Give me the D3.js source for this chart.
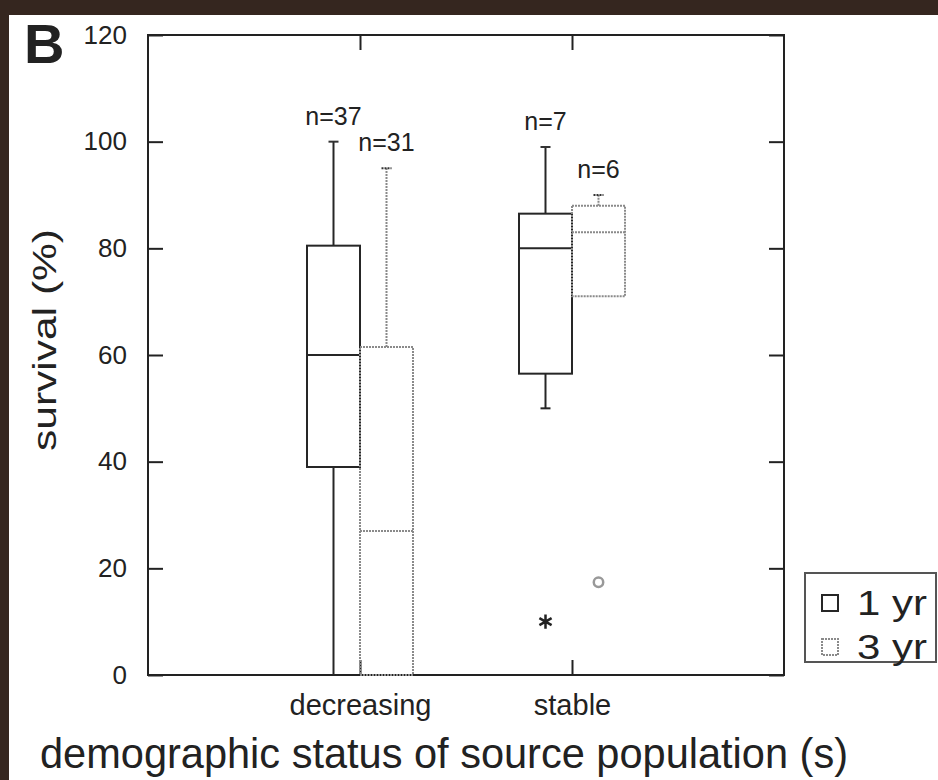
<!DOCTYPE html>
<meta charset="utf-8">
<script src="https://d3js.org/d3.v7.min.js"></script>
<style>
  body { margin: 0; background: #35261f; }
  text { font-family: "Liberation Sans", Arial, sans-serif; fill: #222; }
</style>
<div id="my_dataviz"></div>
<script>
  // data
  var categories = ["decreasing", "stable"];
  var series = ["1 yr", "3 yr"];
  var tickValues = [0, 20, 40, 60, 80, 100, 120];

  var lo1 = [0, 50],   q1_1 = [39, 56.5], med1 = [60, 80], q3_1 = [80.5, 86.5], hi1 = [100, 99], n1 = [37, 7];
  var lo3 = [0, 71],   q1_3 = [0, 71],    med3 = [27, 83], q3_3 = [61.5, 88],  hi3 = [95, 90],  n3 = [31, 6];
  var outCat = ["stable", "stable"], outSeries = ["1 yr", "3 yr"], outVal = [10, 17.4];

  var W = 938, H = 780;
  var margin = {top: 35, right: 154, bottom: 105, left: 148},
      width = W - margin.left - margin.right,
      height = H - margin.top - margin.bottom;

  var root = d3.select("#my_dataviz")
    .append("svg")
      .attr("width", W)
      .attr("height", H)
      .style("display", "block");

  // white paper on the dark backdrop
  root.append("rect")
    .attr("x", 9).attr("y", 15)
    .attr("width", W - 9).attr("height", H - 15)
    .attr("fill", "#fff");

  var svg = root.append("g")
    .attr("transform", "translate(" + margin.left + "," + margin.top + ")");

  var x = d3.scalePoint().domain(categories).range([0, width]).padding(1);
  var y = d3.scaleLinear().domain([0, 120]).range([height, 0]);
  var xs = d3.scaleBand().domain(series).range([-53, 53]);

  // axes, ticks pointing in
  var gl = svg.append("g")
    .call(d3.axisLeft(y).tickValues(tickValues).tickSize(-15).tickSizeOuter(0).tickPadding(21));
  gl.selectAll("text").style("font-size", "26px");
  svg.append("g").attr("transform", "translate(" + width + ",0)")
    .call(d3.axisRight(y).tickValues(tickValues).tickSize(-15).tickSizeOuter(0).tickFormat(""));
  svg.append("g")
    .call(d3.axisTop(x).tickSize(-15).tickSizeOuter(0).tickFormat(""));
  var gb = svg.append("g").attr("transform", "translate(0," + height + ")")
    .call(d3.axisBottom(x).tickSize(-15).tickSizeOuter(0).tickPadding(19));
  gb.selectAll("text").style("font-size", "29px");
  svg.selectAll(".domain").remove();
  svg.selectAll(".tick line").attr("stroke", "#222").attr("stroke-width", 2);
  svg.selectAll(".tick text").attr("fill", "#222");

  // frame
  svg.append("rect")
    .attr("width", width).attr("height", height)
    .attr("fill", "none").attr("stroke", "#222").attr("stroke-width", 2);

  var styles = {
    "1 yr": {stroke: "#262626", dash: null},
    "3 yr": {stroke: "#8a8a8a", dash: "2,1"}
  };

  function rows(s, lo, q1, med, q3, hi, n) {
    return categories.map(function (c, i) {
      return {cat: c, s: s, lo: lo[i], q1: q1[i], med: med[i], q3: q3[i], hi: hi[i], n: n[i]};
    });
  }
  var boxes = rows("1 yr", lo1, q1_1, med1, q3_1, hi1, n1).concat(rows("3 yr", lo3, q1_3, med3, q3_3, hi3, n3));

  var g = svg.selectAll(".bx").data(boxes).enter().append("g")
    .attr("class", "bx")
    .attr("transform", function (d) { return "translate(" + (x(d.cat) + xs(d.s)) + ",0)"; })
    .attr("stroke", function (d) { return styles[d.s].stroke; })
    .attr("stroke-dasharray", function (d) { return styles[d.s].dash; })
    .attr("stroke-width", 2)
    .attr("fill", "none");

  var bw = xs.bandwidth(), cx = bw / 2;
  // whiskers
  g.append("line").attr("x1", cx).attr("x2", cx)
    .attr("y1", function (d) { return y(d.q3); }).attr("y2", function (d) { return y(d.hi); });
  g.append("line").attr("x1", cx).attr("x2", cx)
    .attr("y1", function (d) { return y(d.q1); }).attr("y2", function (d) { return y(d.lo); });
  // caps
  g.append("line").attr("x1", cx - 5).attr("x2", cx + 5)
    .attr("y1", function (d) { return y(d.hi); }).attr("y2", function (d) { return y(d.hi); })
    .attr("stroke", "#333").attr("stroke-dasharray", null);
  g.filter(function (d) { return d.lo < d.q1 && d.lo > 0; }).append("line")
    .attr("x1", cx - 5).attr("x2", cx + 5)
    .attr("y1", function (d) { return y(d.lo); }).attr("y2", function (d) { return y(d.lo); });
  // box + median
  g.append("rect")
    .attr("x", 0).attr("width", bw)
    .attr("y", function (d) { return y(d.q3); })
    .attr("height", function (d) { return y(d.q1) - y(d.q3); });
  g.append("line").attr("x1", 0).attr("x2", bw)
    .attr("y1", function (d) { return y(d.med); }).attr("y2", function (d) { return y(d.med); });
  // n labels
  g.append("text")
    .attr("x", cx).attr("y", function (d) { return y(d.hi) - 17; })
    .attr("text-anchor", "middle")
    .attr("stroke", "none")
    .style("font-size", "25px")
    .attr("fill", "#333")
    .text(function (d) { return "n=" + d.n; });

  // outliers
  var outs = outVal.map(function (v, i) { return {cat: outCat[i], s: outSeries[i], v: v}; });
  svg.selectAll(".out").data(outs).enter().append("path")
    .attr("class", "out")
    .attr("transform", function (d) { return "translate(" + (x(d.cat) + xs(d.s) + cx) + "," + y(d.v) + ")"; })
    .attr("d", function (d) {
      return d.s === "1 yr" ? d3.symbol(d3.symbolAsterisk, 140)() : d3.symbol(d3.symbolCircle, 70)();
    })
    .attr("fill", "none")
    .attr("stroke", function (d) { return d.s === "1 yr" ? "#222" : "#999"; })
    .attr("stroke-width", 2.5);

  // axis titles
  root.append("text")
    .attr("transform", "translate(56,340) rotate(-90)")
    .attr("text-anchor", "middle")
    .attr("textLength", 222).attr("lengthAdjust", "spacingAndGlyphs")
    .style("font-size", "33px")
    .text("survival (%)");
  root.append("text")
    .attr("x", 444).attr("y", 768)
    .attr("text-anchor", "middle")
    .attr("textLength", 808).attr("lengthAdjust", "spacingAndGlyphs")
    .style("font-size", "42px")
    .text("demographic status of source population (s)");
  root.append("text")
    .attr("x", 24).attr("y", 63)
    .style("font-size", "56px").style("font-weight", "bold")
    .attr("fill", "#111")
    .text("B");

  // legend
  var lg = root.append("g").attr("transform", "translate(805,573)");
  lg.append("rect").attr("width", 131).attr("height", 89)
    .attr("fill", "#fff").attr("stroke", "#555").attr("stroke-width", 2);
  var li = lg.selectAll(".li").data(series).enter().append("g")
    .attr("transform", function (d, i) { return "translate(0," + (22 + i * 44) + ")"; });
  li.append("rect").attr("x", 17).attr("width", 16).attr("height", 16)
    .attr("fill", "none").attr("stroke-width", 2)
    .attr("stroke", function (d) { return styles[d].stroke; })
    .attr("stroke-dasharray", function (d) { return styles[d].dash; });
  li.append("text").attr("x", 52).attr("y", 20)
    .attr("textLength", 70).attr("lengthAdjust", "spacingAndGlyphs")
    .style("font-size", "35px")
    .text(function (d) { return d; });
</script>
